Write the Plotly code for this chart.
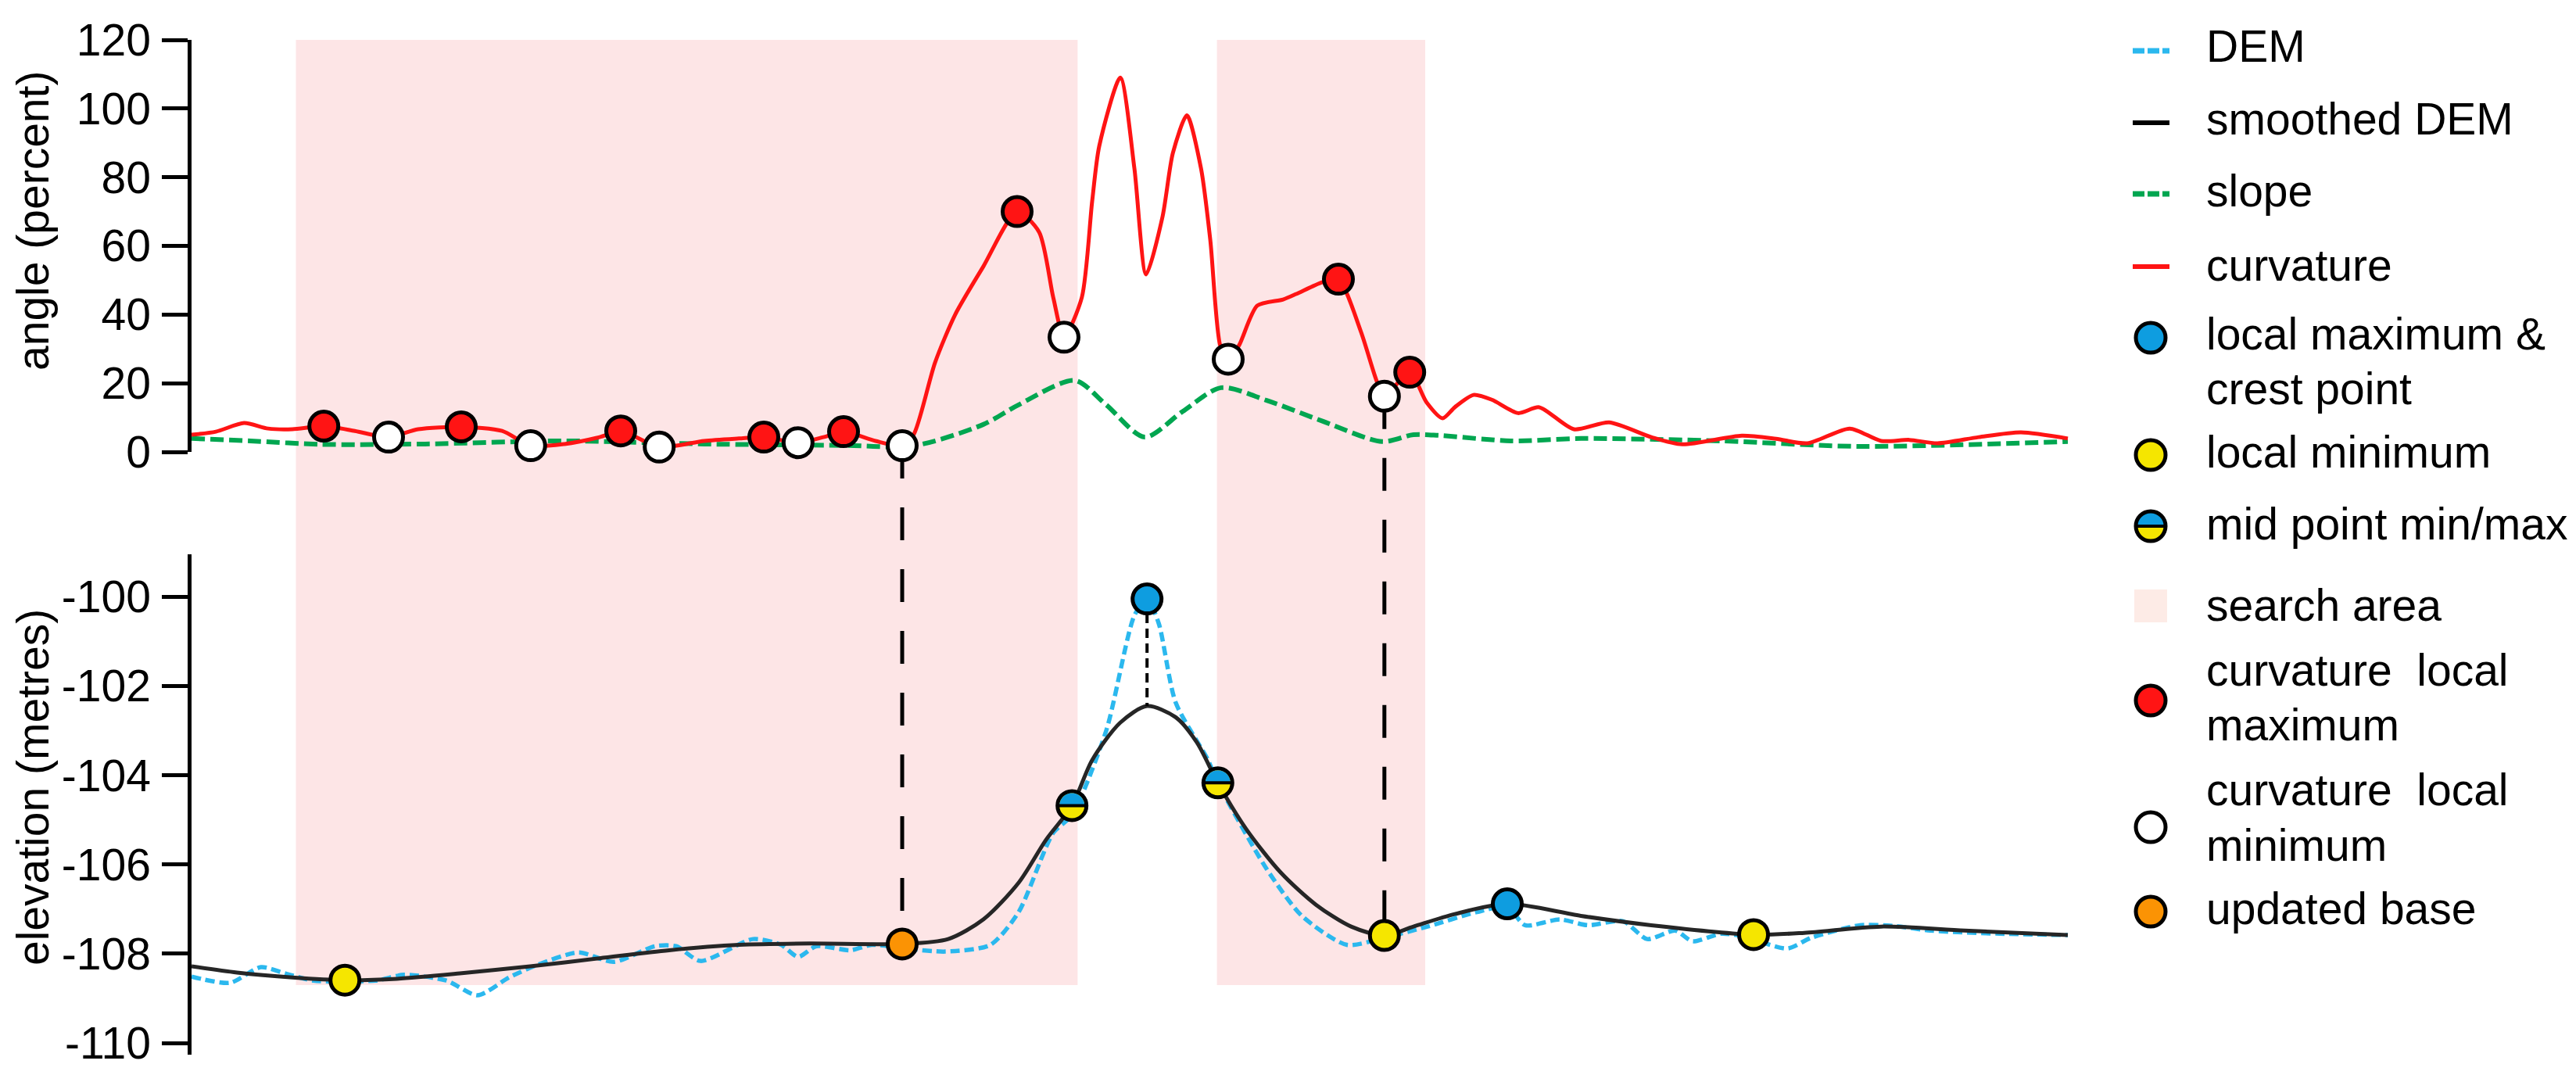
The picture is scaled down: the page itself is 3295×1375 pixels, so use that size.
import math
import plotly.graph_objects as go

# distance along the profile (m) and values
curv_x = [0, 5.2, 11.2, 16.3, 21.5, 28.2, 34.8, 42.0, 48.3, 57.5, 66.2, 72.3, 79.5, 87.0, 91.5,
          99.7, 109.3, 116.7, 122.0, 129.3, 134.7, 139.0, 145.8, 151.5, 154.0, 158.5, 162.8,
          168.8, 176.0, 180.7, 183.7, 186.0, 189.8, 192.0, 193.5, 198.0, 201.0, 203.5, 207.0,
          209.2, 212.2, 215.2, 217.2, 219.3, 221.0, 223.3, 227.2, 232.7, 235.5, 241.0, 244.5,
          249.3, 252.7, 254.3, 259.7, 263.3, 266.7, 269.3, 273.3, 277.2, 282.8, 287.3, 294.7,
          302.2, 311.2, 317.8, 330.5, 337.8, 344.5, 353.5, 360.2, 366.2, 372.2, 381.0, 390.0, 400.0]
curv_y = [5.0, 5.9, 8.4, 6.8, 6.6, 7.5, 6.1, 4.3, 6.6, 7.3, 6.1, 1.8, 2.3, 4.3, 6.1,
          1.4, 3.2, 3.9, 4.3, 2.7, 4.3, 5.9, 3.2, 1.8, 5.2, 26, 40,
          54, 70, 64, 45, 33.4, 45, 73, 89, 109, 82.6, 51.7, 68.5,
          87, 98, 82.6, 61.5, 31, 27, 31, 42.6, 44.4, 46, 49.4, 50.3,
          35, 20.5, 16.2, 23.2, 14.4, 9.8, 13, 16.6, 15.2, 11.3, 13, 6.6,
          8.6, 4.3, 2.2, 4.7, 3.8, 2.5, 6.8, 3.2, 3.5, 2.5, 4.3, 5.7, 3.9]

slope_x = [0, 12.5, 27.5, 49.8, 79.5, 109.3, 139.0, 154.0, 168.8, 176.3, 188.3, 195.0, 203.2,
           211.3, 219.5, 229.2, 241.2, 253.8, 260.5, 266.0, 281.3, 296.2, 326.0, 355.7, 400.0]
slope_y = [3.9, 3.2, 2.2, 2.3, 3.2, 2.3, 1.9, 1.8, 8.0, 13.7, 20.8, 13.7, 4.3,
           11.8, 18.7, 15.0, 8.9, 3.0, 5.0, 4.8, 3.2, 3.9, 3.2, 1.6, 3.0]

dem_x = [0, 8.2, 14.8, 20.0, 26.0, 39.3, 45.3, 54.3, 61.0, 67.7, 73.7, 82.5, 90.0, 98.8, 103.3,
         108.5, 119.7, 125.7, 129.3, 133.2, 140.5, 145.0, 152.0, 160.7, 170.3, 176.3, 183.7,
         187.7, 195.0, 201.0, 203.7, 206.2, 209.8, 216.7, 218.8, 229.2, 236.7, 246.3, 254.2,
         263.5, 273.8, 280.5, 284.3, 291.7, 297.7, 305.2, 310.3, 316.3, 320.0, 326.0, 330.5,
         340.2, 345.3, 355.7, 363.2, 370.7, 385.5, 400.0]
dem_y = [-108.51, -108.65, -108.30, -108.44, -108.60, -108.60, -108.47, -108.60, -108.93, -108.53,
         -108.25, -107.97, -108.18, -107.83, -107.83, -108.16, -107.67, -107.80, -108.07, -107.83,
         -107.92, -107.80, -107.88, -107.95, -107.80, -107.07, -105.29, -104.89, -103.00, -100.42,
         -100.05, -100.60, -102.37, -103.66, -104.17, -106.10, -107.15, -107.80, -107.64, -107.39,
         -107.07, -106.95, -107.36, -107.23, -107.36, -107.27, -107.67, -107.48, -107.72, -107.55,
         -107.60, -107.88, -107.64, -107.36, -107.38, -107.48, -107.55, -107.58]

smooth_x = [0, 9.7, 21.5, 32.7, 43.8, 57.2, 72.2, 87.0, 101.8, 116.7, 131.7, 151.5, 161.3,
            168.8, 176.3, 182.2, 187.7, 192.0, 198.0, 203.7, 209.8, 214.3, 218.8, 224.8, 232.2,
            239.7, 247.2, 254.3, 260.5, 269.3, 280.5, 296.2, 311.2, 333.0, 343.8, 360.2, 378.0, 400.0]
smooth_y = [-108.28, -108.42, -108.53, -108.59, -108.56, -108.44, -108.28, -108.10, -107.92,
            -107.80, -107.77, -107.78, -107.67, -107.23, -106.41, -105.44, -104.68, -103.66,
            -102.82, -102.45, -102.70, -103.26, -104.17, -105.20, -106.18, -106.90, -107.39,
            -107.59, -107.39, -107.11, -106.88, -107.15, -107.36, -107.57, -107.53, -107.39,
            -107.48, -107.58]

# curvature extrema (top panel)
cmax_x = [28.2, 57.5, 91.5, 122.0, 139.0, 176.0, 244.5, 259.7]
cmax_y = [7.5, 7.3, 6.1, 4.3, 5.9, 70, 50.3, 23.2]
cmin_x = [42.0, 72.3, 99.7, 129.3, 151.5, 186.0, 221.0, 254.3]
cmin_y = [4.3, 1.8, 1.4, 2.7, 1.8, 33.4, 27, 16.2]

# elevation points (bottom panel)
lmax_x = [203.7, 280.5]
lmax_y = [-100.05, -106.88]
lmin_x = [32.7, 254.3, 333.0]
lmin_y = [-108.59, -107.59, -107.57]
mid_x = [187.7, 218.8]
mid_y = [-104.68, -104.17]
base_x = [151.5]
base_y = [-107.78]
crest_smooth_y = -102.45

search_areas = [(22.25, 188.9), (218.6, 263.0)]
search_bottom = -108.7

angle_ticks = [0, 20, 40, 60, 80, 100, 120]
elev_ticks = [-110, -108, -106, -104, -102, -100]
elev_labels = ["-110", "-108", "-106", "-104", "-102", "-100"]

W, H = 3295, 1375
FONT = "Liberation Sans, Arial, sans-serif"
RED = "#ff1414"
GREEN = "#00a650"
DEMC = "#2bb8ee"
BLUE = "#0e9de0"
YELLOW = "#f5e600"
ORANGE = "#fb9304"
SHADE = "#fde5e6"

X_RANGE = [0, 400.5]
X_DOM = [237 / W, 2640 / W]
ANG_RANGE = [0, 120]
ANG_DOM = [1 - 570 / H, 1 - 43 / H]
ELEV_RANGE = [-110.26, -99.05]
ELEV_DOM = [1 - 1341 / H, 1 - 701 / H]


def to_paper(v, rng, dom):
    return dom[0] + (v - rng[0]) / (rng[1] - rng[0]) * (dom[1] - dom[0])


def half_path(r, n=24):
    p = [(r * math.cos(math.pi * i / n), r * math.sin(math.pi * i / n)) for i in range(n + 1)]
    return "M " + " L ".join(f"{a:.2f},{b:.2f}" for a, b in p) + " Z"


def dots(x, y, color, xa, ya):
    return go.Scatter(x=x, y=y, mode="markers", xaxis=xa, yaxis=ya, cliponaxis=False,
                      marker=dict(size=37, color=color, line=dict(color="black", width=5)),
                      hoverinfo="skip")


fig = go.Figure()

# top panel: slope and curvature
fig.add_trace(go.Scatter(x=slope_x, y=slope_y, mode="lines", xaxis="x", yaxis="y",
                         line=dict(color=GREEN, width=6, dash="17px,7px", shape="spline", smoothing=0.8)))
fig.add_trace(go.Scatter(x=curv_x, y=curv_y, mode="lines", xaxis="x", yaxis="y",
                         line=dict(color=RED, width=5, shape="spline", smoothing=0.7)))
fig.add_trace(dots(cmax_x, cmax_y, RED, "x", "y"))
fig.add_trace(dots(cmin_x, cmin_y, "white", "x", "y"))

# bottom panel: DEM profiles
fig.add_trace(go.Scatter(x=dem_x, y=dem_y, mode="lines", xaxis="x2", yaxis="y2",
                         line=dict(color=DEMC, width=5.5, dash="12px,6px", shape="spline", smoothing=0.7)))
fig.add_trace(go.Scatter(x=smooth_x, y=smooth_y, mode="lines", xaxis="x2", yaxis="y2",
                         line=dict(color="#262626", width=5, shape="spline", smoothing=0.8)))
fig.add_trace(go.Scatter(x=[lmax_x[0], lmax_x[0]], y=[lmax_y[0], crest_smooth_y], mode="lines",
                         xaxis="x2", yaxis="y2", line=dict(color="black", width=4, dash="12px,7px")))
fig.add_trace(dots(lmin_x, lmin_y, YELLOW, "x2", "y2"))
fig.add_trace(dots(base_x, base_y, ORANGE, "x2", "y2"))
fig.add_trace(dots(lmax_x, lmax_y, BLUE, "x2", "y2"))
fig.add_trace(dots(mid_x, mid_y, YELLOW, "x2", "y2"))

shapes = []
top_p = to_paper(ANG_RANGE[1], ANG_RANGE, ANG_DOM)
bot_p = to_paper(search_bottom, ELEV_RANGE, ELEV_DOM)
for a, b in search_areas:
    shapes.append(dict(type="rect", xref="x", yref="paper", x0=a, x1=b, y0=bot_p, y1=top_p,
                       fillcolor=SHADE, line=dict(width=0), layer="below"))

# dashed links from curvature minima to base / local minimum
links = [(cmin_x[4], cmin_y[4], base_y[0]), (cmin_x[7], cmin_y[7], lmin_y[1])]
for lx, ytop, ybot in links:
    shapes.append(dict(type="line", xref="x", yref="paper", x0=lx, x1=lx,
                       y0=to_paper(ytop, ANG_RANGE, ANG_DOM), y1=to_paper(ybot, ELEV_RANGE, ELEV_DOM),
                       line=dict(color="black", width=5, dash="42px,37px"), layer="below"))

# blue upper half of the mid points
for mx, my in zip(mid_x, mid_y):
    shapes.append(dict(type="path", xref="x2", yref="y2", xsizemode="pixel", ysizemode="pixel",
                       xanchor=mx, yanchor=my, path=half_path(16), fillcolor=BLUE,
                       line=dict(width=0), layer="above"))
    shapes.append(dict(type="line", xref="x2", yref="y2", xsizemode="pixel", ysizemode="pixel",
                       xanchor=mx, yanchor=my, x0=-17, x1=17, y0=0, y1=0,
                       line=dict(color="black", width=4), layer="above"))

# ---- hand drawn legend (pixel positions) ----
LX0, LX1, LXC, LTX = 2720, 2767, 2743, 2812


def pp(x, y):
    return x / W, 1 - y / H


def leg_line(y, color, dash, width):
    shapes.append(dict(type="line", xref="paper", yref="paper", x0=LX0 / W, x1=LX1 / W,
                       y0=1 - y / H, y1=1 - y / H, line=dict(color=color, width=width, dash=dash)))


def leg_circle(y, color, outline=True):
    ax, ay = pp(LXC, y)
    shapes.append(dict(type="circle", xref="paper", yref="paper", xsizemode="pixel", ysizemode="pixel",
                       xanchor=ax, yanchor=ay, x0=-19, x1=19, y0=-19, y1=19, fillcolor=color,
                       line=dict(color="black", width=5 if outline else 0)))


leg_line(57, DEMC, "15px,4px", 7)
leg_line(149, "black", "solid", 6)
leg_line(240, GREEN, "15px,4px", 7)
leg_line(333, RED, "solid", 6)
leg_circle(424, BLUE)
leg_circle(574, YELLOW)
leg_circle(665, YELLOW, outline=False)
ax, ay = pp(LXC, 665)
shapes.append(dict(type="path", xref="paper", yref="paper", xsizemode="pixel", ysizemode="pixel",
                   xanchor=ax, yanchor=ay, path=half_path(19), fillcolor=BLUE, line=dict(width=0)))
shapes.append(dict(type="line", xref="paper", yref="paper", xsizemode="pixel", ysizemode="pixel",
                   xanchor=ax, yanchor=ay, x0=-19, x1=19, y0=0, y1=0, line=dict(color="black", width=4)))
shapes.append(dict(type="circle", xref="paper", yref="paper", xsizemode="pixel", ysizemode="pixel",
                   xanchor=ax, yanchor=ay, x0=-19, x1=19, y0=-19, y1=19, line=dict(color="black", width=5)))
shapes.append(dict(type="rect", xref="paper", yref="paper", x0=2722 / W, x1=2764 / W,
                   y0=1 - 788 / H, y1=1 - 746 / H, fillcolor="#fdebe6", line=dict(width=0)))
leg_circle(888, RED)
leg_circle(1050, "white")
leg_circle(1158, ORANGE)

legend_lines = [
    ("DEM", 51), ("smoothed DEM", 144), ("slope", 236), ("curvature", 331),
    ("local maximum &", 419), ("crest point", 489), ("local minimum", 570),
    ("mid point min/max", 662), ("search area", 766),
    ("curvature\u00a0 local", 849), ("maximum", 919),
    ("curvature\u00a0 local", 1002), ("minimum", 1073), ("updated base", 1154),
]
annotations = []
for txt, y in legend_lines:
    annotations.append(dict(text=txt, xref="paper", yref="paper", x=LTX / W, y=1 - y / H,
                            xanchor="left", yanchor="middle", showarrow=False,
                            font=dict(family=FONT, size=57, color="black")))

# axis titles
annotations.append(dict(text="angle (percent)", xref="paper", yref="paper", x=34 / W, y=1 - 275 / H,
                        textangle=-90, showarrow=False, xanchor="center", yanchor="middle",
                        font=dict(family=FONT, size=57, color="black")))
annotations.append(dict(text="elevation (metres)", xref="paper", yref="paper", x=34 / W, y=1 - 999 / H,
                        textangle=-90, showarrow=False, xanchor="center", yanchor="middle",
                        font=dict(family=FONT, size=57, color="black")))

yaxis_style = dict(showline=True, linecolor="black", linewidth=4.5, ticks="outside", ticklen=33,
                   tickwidth=4.5, tickcolor="black", showgrid=False, zeroline=False,
                   tickfont=dict(family=FONT, size=57, color="black"), ticklabelstandoff=3,
                   automargin=False)

fig.update_layout(
    width=W, height=H,
    margin=dict(l=0, r=0, t=0, b=0),
    paper_bgcolor="white", plot_bgcolor="white",
    showlegend=False,
    xaxis=dict(domain=X_DOM, range=X_RANGE, visible=False, anchor="y"),
    xaxis2=dict(domain=X_DOM, range=X_RANGE, visible=False, anchor="y2", matches="x"),
    yaxis=dict(domain=ANG_DOM, range=ANG_RANGE, anchor="x", tickvals=angle_ticks, **yaxis_style),
    yaxis2=dict(domain=ELEV_DOM, range=ELEV_RANGE, anchor="x2", tickvals=elev_ticks,
                ticktext=elev_labels, **yaxis_style),
    shapes=shapes,
    annotations=annotations,
)

fig.write_html("out.html")
